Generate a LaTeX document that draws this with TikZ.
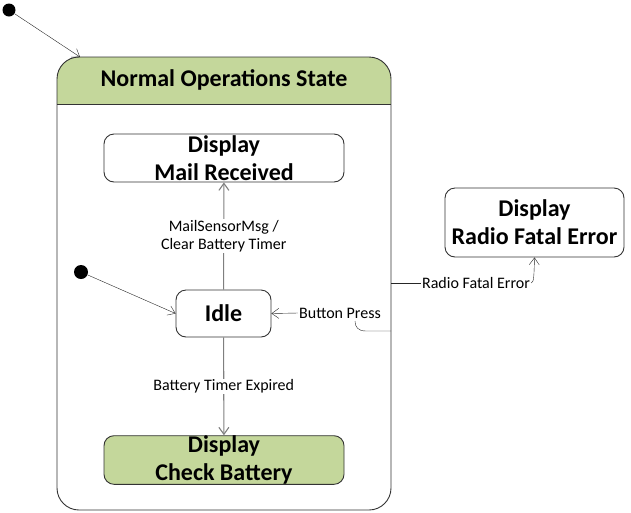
\documentclass[tikz,border=0pt]{standalone}
\usepackage{fontspec}
\setmainfont{Carlito}
\usetikzlibrary{positioning}
\usetikzlibrary{arrows.meta}
\definecolor{hdrgreen}{HTML}{C4D79B}
\definecolor{linegray}{HTML}{7F7F7F}
\tikzset{
  state/.style={draw=black!80, rounded corners=10pt, align=center, font=\fontsize{24}{28}\selectfont\bfseries, inner xsep=0pt, inner ysep=0pt, line width=0.9pt},
  initdot/.style={circle, fill=black, inner sep=0pt, minimum size=13pt},
  lbl/.style={font=\fontsize{16}{18}\selectfont, align=center, inner sep=1pt},
  trans/.style={->, draw=linegray, line width=1.1pt},
}

\begin{document}
\begin{tikzpicture}[x=1pt,y=-1pt,>={Straight Barb[length=7pt,width=10pt]}]
\useasboundingbox (0,0) rectangle (631,512);
% composite state
\begin{scope}
\clip[rounded corners=22pt] (57,57) rectangle (391,510);
\fill[hdrgreen] (57,57) rectangle (391,104);
\end{scope}
\node[draw=black!80, line width=0.9pt, rounded corners=22pt, minimum width=334pt, minimum height=453pt, inner sep=0pt] (normal) at (224,283.5) {};
\draw[black!80, line width=0.9pt] (57,104) -- (391,104);
\node[font=\fontsize{24}{28}\selectfont\bfseries] (title) at (224,80) {Normal Operations State};

% states
\node[state, minimum width=240pt, minimum height=48pt] (mail) at (224,158) {Display\\Mail Received};
\node[state, minimum width=95pt, minimum height=47pt] (idle) at (223.5,313.5) {Idle};
\node[state, fill=hdrgreen, minimum width=240pt, minimum height=48pt] (check) at (224,460) {Display\\Check Battery};
\node[state, minimum width=179pt, minimum height=69pt] (radio) at (534.5,222.5) {Display\\Radio Fatal Error};

% initial states
\node[initdot] (init) at (9,10) {};
\node[initdot, minimum size=14pt] (init2) at (81,272) {};
\coordinate (entry) at (80,57);

% transitions
\draw[->, black!85] (init) -- (entry);
\draw[->, black!85] (init2) -- (idle.west);
\draw[trans] (idle) -- node[lbl, fill=white] (mslbl) {MailSensorMsg /\\Clear Battery Timer} (mail);
\draw[trans] (idle) -- node[lbl, fill=white] (btlbl) {Battery Timer Expired} (check);

\node[lbl] (bplbl) at (340,313) {Button Press};
\coordinate (bpexit) at (391,331);
\draw[black!85] (bpexit) -- (366,331) .. controls (358,331) and (355,327) .. (355,321);
\draw[->, black!85] (bplbl.west) -- (idle.east);

\node[lbl] (rflbl) at (476,283) {Radio Fatal Error};
\coordinate (rfexit) at (391,283);
\draw[black!85] (rfexit) -- (rflbl.west);
\draw[->, black!85] (rflbl.east) .. controls (534,283) and (534,275) .. (radio.south);
\end{tikzpicture}
\end{document}
